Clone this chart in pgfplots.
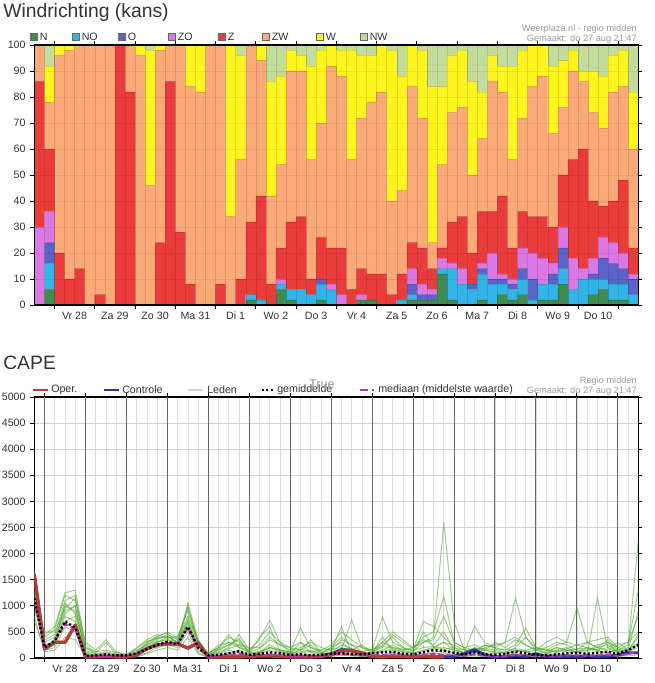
\documentclass[border=0pt]{standalone}
\usepackage{pgfplots}
\pgfplotsset{compat=1.18}
\usepackage{pgfplotstable}
\usepackage{fontspec}
\setmainfont{Liberation Sans}

\definecolor{cN}{HTML}{3F8C50}
\definecolor{cNO}{HTML}{32B4E6}
\definecolor{cO}{HTML}{5A64C8}
\definecolor{cZO}{HTML}{DC78E6}
\definecolor{cZ}{HTML}{EB3C3C}
\definecolor{cZW}{HTML}{FAAA78}
\definecolor{cW}{HTML}{FFF51E}
\definecolor{cNW}{HTML}{C3DC9B}
\definecolor{txtdark}{HTML}{333333}
\definecolor{txtgray}{HTML}{999999}
\definecolor{daygray}{HTML}{666666}
\definecolor{operc}{HTML}{B43C32}
\definecolor{ctrlc}{HTML}{3232A0}
\definecolor{medc}{HTML}{C030C0}
\definecolor{memc}{HTML}{4FA82A}
\definecolor{ledenc}{HTML}{C8D8C0}

\pgfplotstableread{
i N NO O ZO Z ZW W NW
0 0 0 0 30 56 14 0 0
1 6 10 8 12 24 18 14 8
2 0 0 0 0 20 76 4 0
3 0 0 0 0 10 88 2 0
4 0 0 0 0 14 86 0 0
5 0 0 0 0 0 100 0 0
6 0 0 0 0 4 96 0 0
7 0 0 0 0 0 100 0 0
8 0 0 0 0 100 0 0 0
9 0 0 0 0 82 18 0 0
10 0 0 0 0 0 96 4 0
11 0 0 0 0 0 46 52 2
12 0 0 0 0 24 74 2 0
13 0 0 0 0 86 14 0 0
14 0 0 0 0 28 72 0 0
15 0 0 0 0 8 76 16 0
16 0 0 0 0 0 82 18 0
17 0 0 0 0 0 100 0 0
18 0 0 0 0 8 92 0 0
19 0 0 0 0 0 34 66 0
20 0 0 0 0 10 46 40 4
21 2 2 0 0 28 68 0 0
22 0 2 0 0 40 52 6 0
23 0 0 0 0 8 34 44 14
24 6 2 0 2 12 32 34 12
25 2 4 0 0 26 58 8 2
26 0 6 0 0 28 56 6 4
27 0 4 0 0 6 46 36 8
28 2 6 2 0 16 44 28 2
29 0 6 0 2 14 70 8 0
30 0 0 0 4 18 66 10 2
31 0 0 0 0 6 50 42 2
32 2 0 0 2 10 58 24 4
33 2 0 0 0 10 66 18 4
34 0 0 0 0 12 70 18 0
35 0 0 0 0 4 36 58 2
36 0 2 0 0 10 32 44 12
37 2 2 4 6 10 60 16 0
38 2 0 2 4 14 50 26 2
39 2 0 2 2 8 10 60 16
40 12 2 0 4 4 32 30 16
41 2 12 0 2 16 42 22 4
42 0 8 0 6 20 42 22 2
43 0 6 2 0 12 30 36 14
44 2 10 2 2 20 28 18 18
45 0 8 2 10 16 50 10 4
46 4 4 2 2 30 40 10 8
47 2 4 2 2 12 34 36 8
48 4 6 4 8 14 36 26 2
49 0 2 8 10 14 50 16 0
50 2 6 0 10 16 54 12 0
51 2 6 4 4 14 36 26 8
52 8 6 8 8 20 26 18 6
53 0 6 0 12 38 34 8 2
54 0 10 0 4 46 26 4 10
55 4 6 2 6 22 34 16 10
56 6 4 8 8 12 30 20 12
57 2 6 8 8 16 42 14 4
58 2 6 6 6 28 36 14 2
59 0 4 6 2 10 38 22 18
}\wind

\pgfplotstableread{
x oper ctrl mean med m1 m2 m3 m4 m5 m6 m7 m8 m9 m10 m11 m12
0 1600 1600 1150 1100 1700 1500 1400 1300 1250 1200 1100 1000 900 800 1650 700
1 170 170 200 180 300 450 250 350 200 150 400 250 500 120 220 180
2 300 300 330 310 400 600 300 450 350 200 550 300 500 150 350 250
3 300 300 700 650 900 1250 800 1100 1000 600 1200 700 950 400 850 1050
4 630 630 580 560 1000 1300 700 1200 900 500 1100 800 1150 350 1000 850
5 20 20 40 30 100 250 50 200 150 20 300 80 120 20 60 200
6 20 20 50 30 50 100 30 120 80 10 150 40 60 10 30 80
7 30 30 70 40 80 300 50 150 60 20 350 100 40 10 60 120
8 20 20 50 30 30 80 20 100 40 10 120 40 80 5 50 70
9 20 20 50 30 20 50 10 80 30 5 60 20 40 5 40 50
10 60 60 90 70 100 200 80 150 60 30 120 60 90 20 100 180
11 180 180 170 160 250 350 200 250 150 100 300 200 280 80 220 320
12 250 250 250 240 380 450 300 350 250 200 400 300 420 150 320 380
13 270 270 310 290 420 380 350 450 300 250 500 400 480 200 350 400
14 270 270 260 250 300 420 280 350 250 200 380 300 260 150 320 380
15 190 190 600 580 1050 900 700 750 600 500 950 650 1000 400 700 800
16 290 290 200 180 350 250 200 300 150 100 300 250 280 80 220 350
17 20 20 50 30 60 100 30 80 20 10 80 40 40 10 60 70
18 20 20 60 40 150 200 80 250 50 30 200 120 180 40 100 160
19 20 20 90 60 250 450 150 300 100 80 400 200 300 60 180 250
20 20 20 130 80 380 200 100 250 150 60 300 450 200 80 250 350
21 30 30 60 40 100 150 60 200 50 40 120 150 100 30 80 90
22 40 40 80 50 120 350 100 200 80 60 180 250 400 40 100 120
23 40 40 110 60 250 730 200 400 150 80 350 500 600 60 200 200
24 30 30 90 50 150 300 150 250 100 60 250 300 120 40 120 150
25 20 20 60 40 80 200 120 150 60 40 200 100 80 30 90 120
26 20 20 70 40 300 150 575 200 80 60 300 120 150 40 100 170
27 20 20 50 30 100 250 200 300 60 50 200 150 350 30 120 120
28 30 30 60 40 60 100 100 200 40 30 150 80 100 20 80 150
29 60 80 80 60 120 200 80 150 60 50 250 200 150 30 100 170
30 140 160 90 80 250 300 150 350 100 80 500 400 600 50 150 200
31 140 150 80 60 180 150 730 250 80 60 350 250 100 40 120 150
32 100 90 70 50 100 250 200 200 60 40 200 120 80 30 100 120
33 30 30 90 50 80 120 100 150 40 30 150 80 100 20 90 170
34 20 20 110 60 250 200 300 785 60 50 300 150 400 30 120 220
35 30 30 120 60 400 450 200 300 100 80 500 250 150 50 180 200
36 30 30 80 50 200 300 150 200 80 60 350 150 120 40 120 170
37 20 20 70 40 120 180 100 150 60 40 200 200 100 30 90 150
38 30 30 110 60 300 400 150 700 80 60 300 350 500 40 120 200
39 20 20 150 80 400 500 200 605 100 80 350 250 200 50 180 220
40 20 30 140 60 2600 1180 300 400 150 100 800 500 300 60 200 170
41 nan 30 100 50 700 300 250 200 100 60 300 150 150 40 150 200
42 nan 80 70 40 150 200 150 100 60 40 200 100 100 30 100 150
43 nan 160 110 70 100 250 100 605 80 60 150 200 120 40 120 170
44 nan 60 70 40 250 150 200 300 60 50 250 150 150 30 100 180
45 nan 20 60 30 180 300 250 200 40 30 200 120 100 20 90 150
46 nan 30 80 40 80 200 300 150 60 50 300 100 90 30 120 170
47 nan 40 120 60 150 350 1150 250 80 70 400 200 120 40 180 150
48 nan 30 90 50 120 250 400 575 60 50 250 400 150 30 140 120
49 nan 80 60 40 60 150 200 200 40 30 150 150 200 20 100 150
50 nan 30 50 30 80 200 150 150 60 50 300 100 80 30 120 170
51 nan 20 70 40 150 300 100 250 80 60 400 200 150 40 200 120
52 nan 30 90 50 200 250 180 300 60 50 300 150 120 30 150 150
53 nan 30 100 50 100 150 250 960 40 30 250 120 100 20 120 170
54 nan 40 80 40 120 300 200 300 60 50 300 200 180 30 150 200
55 nan 30 100 50 250 200 150 200 1150 60 350 150 120 40 200 150
56 nan 30 120 60 300 350 200 150 200 80 400 300 100 50 250 100
57 nan 60 80 40 100 150 300 250 100 50 200 200 150 30 120 170
58 nan 100 150 80 200 250 150 300 150 60 300 150 120 40 150 120
59 nan 100 250 120 2250 1300 400 500 900 120 800 250 200 60 300 450
}\cape

\begin{document}
\begin{tikzpicture}[x=0.75pt,y=0.75pt,
  lg/.style={anchor=west, font=\fontsize{8}{9.5}\selectfont, text=txtdark, inner sep=0pt},
  rt/.style={anchor=east, font=\fontsize{6.9}{8}\selectfont, text=txtgray, inner sep=0pt}]
\path[use as bounding box] (0,0) rectangle (655,683);

% ---------- titles and legends (top) ----------
\node[anchor=west, inner sep=0pt, font=\fontsize{14.5}{16}\selectfont, text=txtdark] at (3,670) {Windrichting (kans)};
\node[rt] at (637,654) {Weerplaza.nl - regio midden};
\node[rt] at (637,643.5) {Gemaakt: do 27 aug 21:47};
\foreach \c/\lab/\xx in {cN/N/30,cNO/NO/72,cO/O/118,cZO/ZO/168,cZ/Z/218,cZW/ZW/262,cW/W/316,cNW/NW/360}{
  \draw[fill=\c, draw=black!60, line width=0.5pt] (\xx,642.5) rectangle ++(7,7);
  \node[lg] at (\xx+9.5,646) {\lab};
}

% ---------- top axis ----------
\begin{axis}[
  at={(25.73pt,283.5pt)}, anchor=south west,
  scale only axis, width=453pt, height=195pt,
  xmin=-0.5, xmax=59.5, ymin=0, ymax=100,
  ybar stacked, bar width=1,
  axis on top,
  xtick={1.5,5.5,...,57.5}, xticklabels={},
  extra x ticks={3.5,7.5,...,55.5},
  extra x tick labels={Vr 28,Za 29,Zo 30,Ma 31,Di 1,Wo 2,Do 3,Vr 4,Za 5,Zo 6,Ma 7,Di 8,Wo 9,Do 10},
  extra x tick style={major tick length=0pt, grid=none, tick label style={yshift=-1.5pt}},
  ytick={0,10,...,100},
  ymajorgrids, major grid style={black, opacity=0.07, line width=0.4pt},
  tick align=outside, major tick length=3pt,
  tick style={black, line width=0.6pt},
  axis line style={black, line width=0.8pt},
  tick label style={font=\fontsize{8}{9}\selectfont, text=txtdark},
  /pgf/number format/assume math mode=true,
  /pgf/number format/1000 sep={},
]
\addplot[fill=cN, draw=black, draw opacity=0.12, line width=0.3pt] table[x=i,y=N]{\wind};
\addplot[fill=cNO, draw=black, draw opacity=0.12, line width=0.3pt] table[x=i,y=NO]{\wind};
\addplot[fill=cO, draw=black, draw opacity=0.12, line width=0.3pt] table[x=i,y=O]{\wind};
\addplot[fill=cZO, draw=black, draw opacity=0.12, line width=0.3pt] table[x=i,y=ZO]{\wind};
\addplot[fill=cZ, draw=black, draw opacity=0.12, line width=0.3pt] table[x=i,y=Z]{\wind};
\addplot[fill=cZW, draw=black, draw opacity=0.12, line width=0.3pt] table[x=i,y=ZW]{\wind};
\addplot[fill=cW, draw=black, draw opacity=0.12, line width=0.3pt] table[x=i,y=W]{\wind};
\addplot[fill=cNW, draw=black, draw opacity=0.12, line width=0.3pt] table[x=i,y=NW]{\wind};
\pgfplotsinvokeforeach{1.5,5.5,...,57.5}{
  \draw[daygray, line width=0.75pt] (axis cs:#1,0) -- (axis cs:#1,100);
}
\end{axis}

% ---------- titles and legends (bottom) ----------
\node[anchor=west, inner sep=0pt, font=\fontsize{14.5}{16}\selectfont, text=txtdark] at (3,320) {CAPE};
\node[rt] at (637,302) {Regio midden};
\node[rt] at (637,291.5) {Gemaakt: do 27 aug 21:47};
\draw[operc, line width=2.2pt] (33,293) -- (48,293);
\node[lg] at (51,293) {Oper.};
\draw[ctrlc, line width=2.2pt] (104,293) -- (119,293);
\node[lg] at (122,293) {Controle};
\draw[ledenc, line width=0.8pt] (188,293) -- (203,293);
\node[lg] at (207,293) {Leden};
\draw[black, line width=1.8pt, dash pattern=on 1.6pt off 1.6pt] (262,293) -- (274,293);
\node[lg] at (277,293) {gemiddelde};
\node[anchor=center, inner sep=0pt, font=\fontsize{9.5}{11}\selectfont, text=txtgray] at (322,299) {True};
\draw[medc, line width=1.6pt] (360,293) -- (368,293);
\draw[medc, line width=1.6pt] (371.5,293) -- (373.5,293);
\node[lg] at (378,293) {mediaan (middelste waarde)};

% ---------- bottom axis ----------
\begin{axis}[
  at={(25.73pt,18.75pt)}, anchor=south west,
  scale only axis, width=453pt, height=195.75pt,
  xmin=0, xmax=59, ymin=0, ymax=5000,
  xtick={1,5,...,57}, xticklabels={},
  extra x ticks={3,7,...,55},
  extra x tick labels={Vr 28,Za 29,Zo 30,Ma 31,Di 1,Wo 2,Do 3,Vr 4,Za 5,Zo 6,Ma 7,Di 8,Wo 9,Do 10},
  extra x tick style={major tick length=0pt, grid=none, tick label style={yshift=-1.5pt}},
  minor xtick={0,...,59}, xminorgrids, minor tick length=0pt,
  ytick={0,500,...,5000}, ymajorgrids,
  major grid style={black!17, line width=0.5pt},
  minor grid style={black!14, line width=0.5pt},
  tick align=outside, major tick length=3pt,
  tick style={black, line width=0.6pt},
  axis line style={black, line width=0.8pt},
  tick label style={font=\fontsize{8}{9}\selectfont, text=txtdark},
  /pgf/number format/assume math mode=true,
  /pgf/number format/1000 sep={},
  unbounded coords=discard,
]
\pgfplotsinvokeforeach{1,5,...,57}{
  \draw[daygray, line width=0.75pt] (axis cs:#1,0) -- (axis cs:#1,5000);
}
\pgfplotsinvokeforeach{m1,m2,m3,m4,m5,m6,m7,m8,m9,m10,m11,m12}{
  \addplot[memc, opacity=0.55, line width=0.75pt] table[x=x,y=#1]{\cape};
}
\addplot[ctrlc, line width=2.2pt, line join=round] table[x=x,y=ctrl]{\cape};
\addplot[operc, line width=2.4pt, line join=round] table[x=x,y=oper]{\cape};
\addplot[medc, line width=1.5pt, dash pattern=on 4pt off 2pt] table[x=x,y=med]{\cape};
\addplot[black, line width=1.8pt, dash pattern=on 1.6pt off 1.6pt] table[x=x,y=mean]{\cape};
\end{axis}
\end{tikzpicture}
\end{document}
